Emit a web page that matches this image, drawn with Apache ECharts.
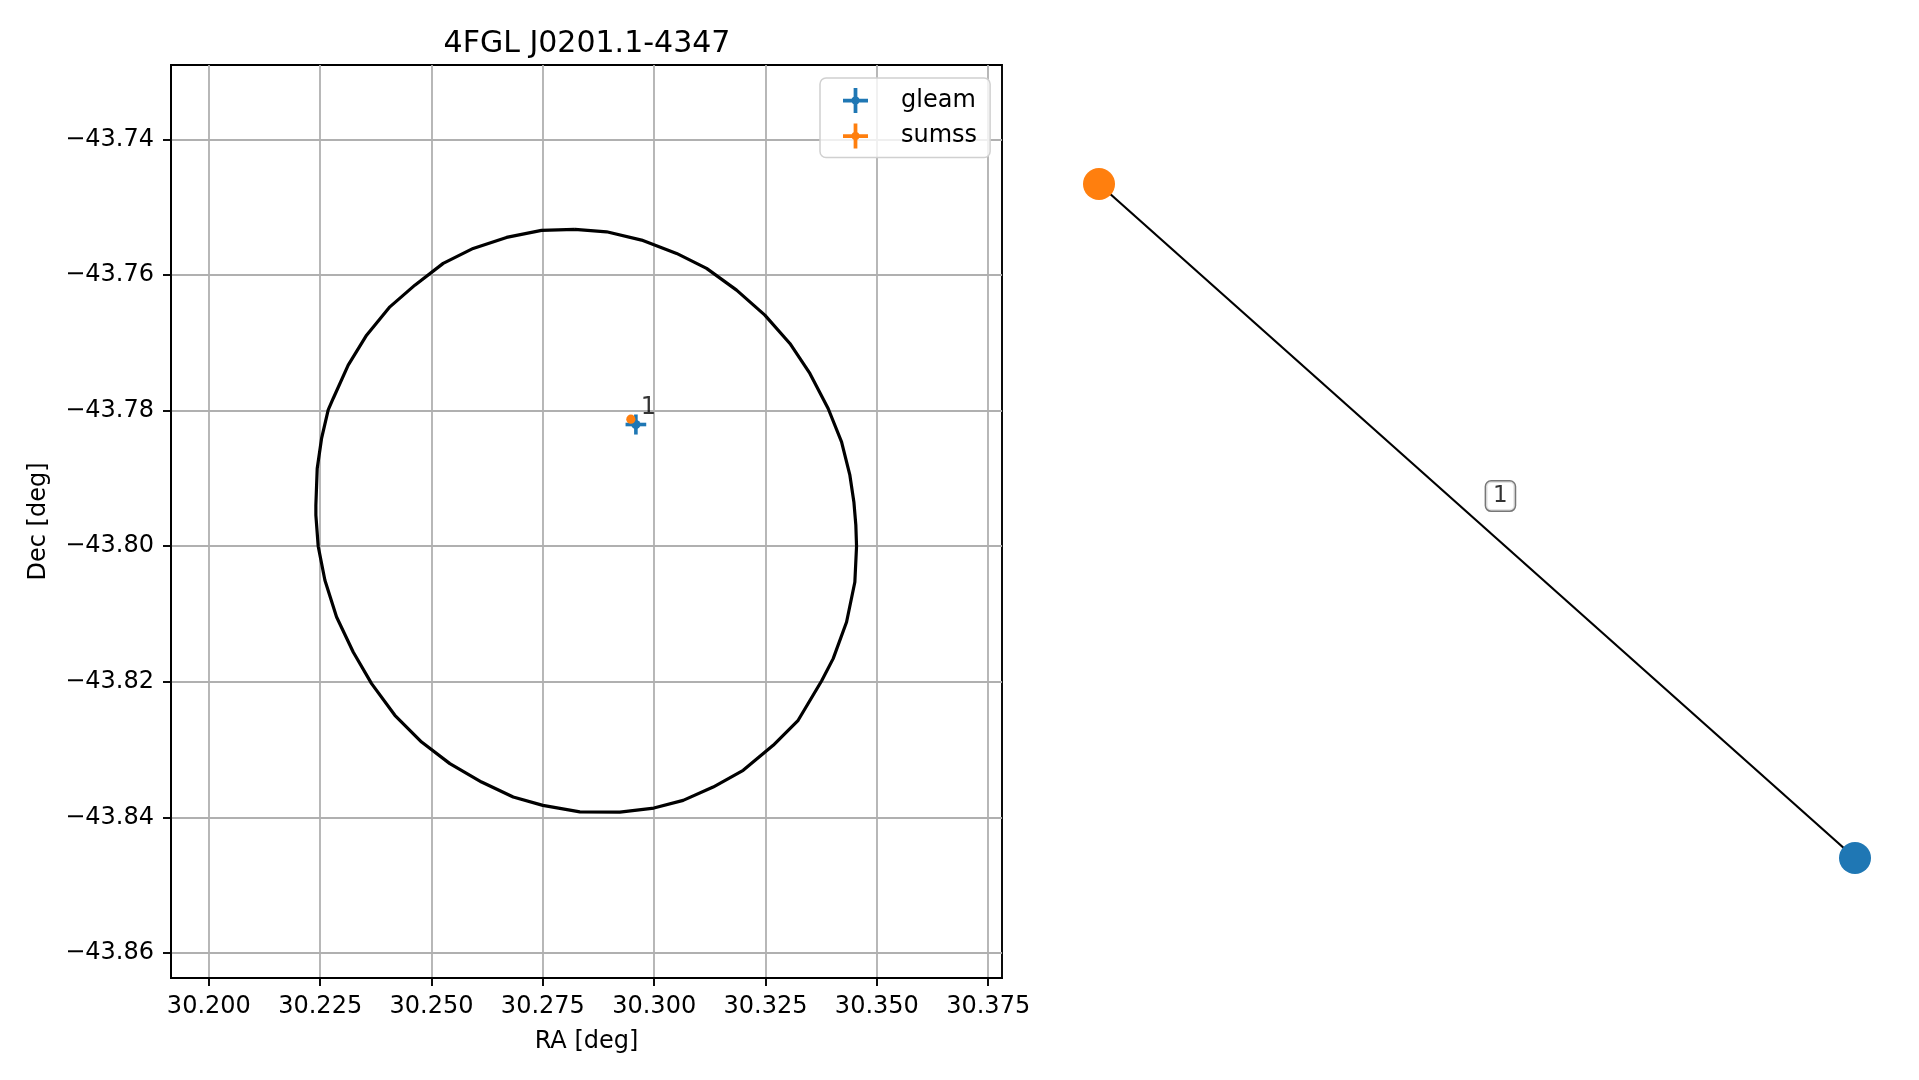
<!DOCTYPE html>
<html>
<head>
<meta charset="utf-8">
<script src="https://cdn.jsdelivr.net/npm/echarts@6/dist/echarts.min.js"></script>
<style>
html,body{margin:0;padding:0;background:#fff;}
#chart{width:1919px;height:1080px;}
</style>
</head>
<body>
<div id="chart"></div>
<script>
// ---------- data ----------
const chartTitle = '4FGL J0201.1-4347';
const raTicks = [30.200, 30.225, 30.250, 30.275, 30.300, 30.325, 30.350, 30.375];
const decTicks = [-43.86, -43.84, -43.82, -43.80, -43.78, -43.76, -43.74];
const raRange = [30.1915, 30.3781];
const decRange = [-43.8637, -43.7290];

// 4FGL error ellipse outline (traced vertices)
const ellipseRA = [30.28219, 30.28931, 30.29717, 30.30503, 30.31176, 30.31850, 30.32485, 30.33047,
  30.33496, 30.33906, 30.34207, 30.34394, 30.34484, 30.34528, 30.34544, 30.34506, 30.34320, 30.34019,
  30.33758, 30.33233, 30.32672, 30.31998, 30.31324, 30.30651, 30.29993, 30.29229, 30.28331, 30.27500,
  30.26834, 30.26124, 30.25412, 30.24777, 30.24177, 30.23654, 30.23241, 30.22868, 30.22606, 30.22455,
  30.22403, 30.22403, 30.22433, 30.22531, 30.22680, 30.22792, 30.23129, 30.23542, 30.24065, 30.24626,
  30.25262, 30.25935, 30.26685, 30.27471, 30.28219];
const ellipseDec = [-43.75325, -43.75361, -43.75483, -43.75680, -43.75901, -43.76221, -43.76590, -43.77008,
  -43.77451, -43.77968, -43.78461, -43.78952, -43.79346, -43.79690, -43.80000, -43.80527, -43.81117, -43.81658,
  -43.81988, -43.82568, -43.82937, -43.83306, -43.83553, -43.83749, -43.83863, -43.83922, -43.83919, -43.83823,
  -43.83700, -43.83479, -43.83207, -43.82889, -43.82494, -43.82027, -43.81560, -43.81044, -43.80502, -43.80000,
  -43.79542, -43.79395, -43.78853, -43.78410, -43.77988, -43.77820, -43.77328, -43.76886, -43.76468, -43.76148,
  -43.75827, -43.75606, -43.75444, -43.75340, -43.75325];

// catalogue sources
const sourceNames = ['gleam', 'sumss'];
const sourceColors = ['#1f77b4', '#ff7f0e'];
const sourceRA = [30.29589, 30.29476];
const sourceDec = [-43.78204, -43.78125];
const sourceRAErr = [0.00232, 0.0006];
const sourceDecErr = [0.00148, 0.0005];

// match annotation
const matchLabels = ['1'];
const matchLabelRA = [30.29663];
const matchLabelDec = [-43.78041];

// association graph (right panel)
const graphNodes = ['sumss', 'gleam'];
const graphNodeX = [-1.0, 1.0];
const graphNodeY = [0.5, -0.5];
const graphEdges = [[0, 1]];
const graphEdgeLabels = ['1'];
const graphEdgeLabelX = [0.062];
const graphEdgeLabelY = [0.037];
const graphXRange = [-1, 1];
const graphYRange = [-0.5, 0.5];

// ---------- chart ----------
const FONT = 'DejaVu Sans';
const chart = echarts.init(document.getElementById('chart'), null, {renderer: 'canvas'});

function errorbarRender(params, api) {
  const x = api.value(0), y = api.value(1), ex = api.value(2), ey = api.value(3);
  const c = api.coord([x, y]);
  const l = api.coord([x - ex, y]), r = api.coord([x + ex, y]);
  const t = api.coord([x, y + ey]), b = api.coord([x, y - ey]);
  const color = api.visual('color');
  return {
    type: 'group',
    children: [
      {type: 'line', shape: {x1: l[0], y1: l[1], x2: r[0], y2: r[1]}, style: {stroke: color, lineWidth: 3.6}},
      {type: 'line', shape: {x1: t[0], y1: t[1], x2: b[0], y2: b[1]}, style: {stroke: color, lineWidth: 3.6}},
      {type: 'circle', shape: {cx: c[0], cy: c[1], r: 4.6}, style: {fill: color}}
    ]
  };
}

const plusIcon = 'path://M0,10.2H24V13.8H0Z M10.2,0H13.8V24H10.2Z M8,12A4,4 0 1 1 16,12A4,4 0 1 1 8,12Z';

const sourceSeries = sourceNames.map((name, i) => ({
  name: name,
  type: 'custom',
  xAxisIndex: 0, yAxisIndex: 0,
  renderItem: errorbarRender,
  itemStyle: {color: sourceColors[i]},
  encode: {x: 0, y: 1},
  data: [[sourceRA[i], sourceDec[i], sourceRAErr[i], sourceDecErr[i]]],
  z: 5 + i,
  silent: true
}));

const nodeColorByName = {};
sourceNames.forEach((n, i) => { nodeColorByName[n] = sourceColors[i]; });

const option = {
  animation: false,
  backgroundColor: '#ffffff',
  textStyle: {fontFamily: FONT},
  title: {
    text: chartTitle,
    left: 582, top: 24,
    textAlign: 'center',
    textStyle: {fontFamily: FONT, fontSize: 30, fontWeight: 'normal', color: '#000'}
  },
  legend: {
    show: true,
    orient: 'vertical',
    left: 820, top: 78,
    padding: [10, 13, 9, 23],
    itemWidth: 25, itemHeight: 25,
    itemGap: 10.5,
    backgroundColor: 'rgba(255,255,255,0.8)',
    borderColor: '#d0d0d0',
    borderWidth: 1.5,
    borderRadius: 6,
    selectedMode: false,
    textStyle: {fontFamily: FONT, fontSize: 24, color: '#000', lineHeight: 25, padding: [0, 0, 0, 28]},
    data: sourceNames.map(n => ({name: n, icon: plusIcon}))
  },
  grid: [
    {left: 171, right: 917, top: 65, bottom: 102, show: true, borderColor: '#000', borderWidth: 1.9, backgroundColor: 'transparent', containLabel: false},
    {left: 1099, right: 64, top: 184, bottom: 222, show: false, containLabel: false}
  ],
  xAxis: [
    {
      type: 'value', gridIndex: 0,
      min: raRange[0], max: raRange[1],
      name: 'RA [deg]', nameLocation: 'middle', nameGap: 52,
      nameTextStyle: {fontFamily: FONT, fontSize: 24, color: '#000'},
      axisLine: {show: true, onZero: false, lineStyle: {color: '#000', width: 1.9}},
      axisTick: {show: true, length: 8, customValues: raTicks, lineStyle: {color: '#000', width: 1.9}},
      axisLabel: {show: true, margin: 17, customValues: raTicks, fontFamily: FONT, fontSize: 24, color: '#000',
        formatter: v => v.toFixed(3)},
      splitLine: {show: true, lineStyle: {color: '#b0b0b0', width: 1.8}}
    },
    {
      type: 'value', gridIndex: 1, show: false,
      min: graphXRange[0], max: graphXRange[1],
      splitLine: {show: false}
    }
  ],
  yAxis: [
    {
      type: 'value', gridIndex: 0,
      min: decRange[0], max: decRange[1],
      name: 'Dec [deg]', nameLocation: 'middle', nameGap: 120,
      nameTextStyle: {fontFamily: FONT, fontSize: 24, color: '#000'},
      axisLine: {show: true, onZero: false, lineStyle: {color: '#000', width: 1.9}},
      axisTick: {show: true, length: 8, customValues: decTicks, lineStyle: {color: '#000', width: 1.9}},
      axisLabel: {show: true, margin: 17, customValues: decTicks, fontFamily: FONT, fontSize: 24, color: '#000',
        formatter: v => (v < 0 ? '\u2212' : '') + Math.abs(v).toFixed(2)},
      splitLine: {show: true, lineStyle: {color: '#b0b0b0', width: 1.8}}
    },
    {
      type: 'value', gridIndex: 1, show: false,
      min: graphYRange[0], max: graphYRange[1],
      splitLine: {show: false}
    }
  ],
  series: [
    {
      name: 'ellipse',
      type: 'line',
      xAxisIndex: 0, yAxisIndex: 0,
      data: ellipseRA.map((x, i) => [x, ellipseDec[i]]),
      showSymbol: false, symbol: 'none',
      lineStyle: {color: '#000', width: 3.2},
      z: 3, silent: true
    },
    ...sourceSeries,
    {
      name: 'matchLabel',
      type: 'scatter',
      xAxisIndex: 0, yAxisIndex: 0,
      data: matchLabels.map((t, i) => ({value: [matchLabelRA[i], matchLabelDec[i]], label: {formatter: t}})),
      symbolSize: 1,
      itemStyle: {color: 'rgba(0,0,0,0)'},
      label: {show: true, position: [0, 0], align: 'left', verticalAlign: 'bottom', offset: [2, 7],
        fontFamily: FONT, fontSize: 24, color: '#000'},
      z: 8, silent: true
    },
    // right panel: graph
    {
      name: 'edges',
      type: 'line',
      xAxisIndex: 1, yAxisIndex: 1,
      data: graphEdges.length ? [[graphNodeX[graphEdges[0][0]], graphNodeY[graphEdges[0][0]]], [graphNodeX[graphEdges[0][1]], graphNodeY[graphEdges[0][1]]]] : [],
      showSymbol: false, symbol: 'none',
      lineStyle: {color: '#000', width: 2.2},
      clip: false, z: 3, silent: true
    },
    {
      name: 'nodes',
      type: 'scatter',
      xAxisIndex: 1, yAxisIndex: 1,
      data: graphNodes.map((n, i) => ({value: [graphNodeX[i], graphNodeY[i]], itemStyle: {color: nodeColorByName[n], opacity: 1}})),
      symbolSize: 32,
      itemStyle: {opacity: 1},
      clip: false, z: 5, silent: true
    },
    {
      name: 'edgeLabels',
      type: 'scatter',
      xAxisIndex: 1, yAxisIndex: 1,
      data: graphEdgeLabels.map((t, i) => ({value: [graphEdgeLabelX[i], graphEdgeLabelY[i]], label: {formatter: t}})),
      symbolSize: 1,
      itemStyle: {color: 'rgba(0,0,0,0)'},
      label: {show: true, position: 'inside', fontFamily: FONT, fontSize: 23, lineHeight: 22, color: '#000',
        backgroundColor: '#fff', borderColor: '#555', borderWidth: 1.5, borderRadius: 5, padding: [4, 7, 3, 7]},
      clip: false, z: 6, silent: true
    }
  ]
};
chart.setOption(option);
</script>
</body>
</html>
